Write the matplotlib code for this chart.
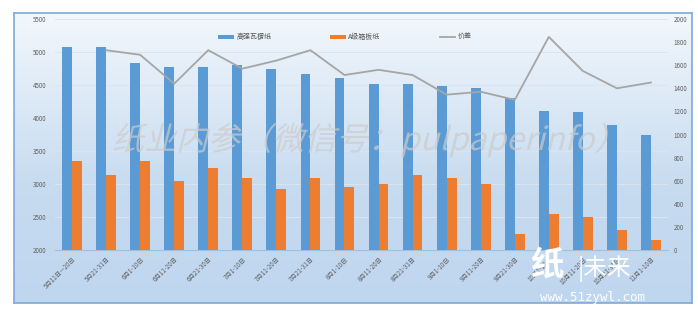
import numpy as np
import matplotlib.pyplot as plt
from matplotlib.textpath import TextPath
from matplotlib.patches import PathPatch
from matplotlib.font_manager import FontProperties
from matplotlib.transforms import Affine2D, IdentityTransform

plt.rcParams['font.family'] = ['Noto Sans CJK SC', 'DejaVu Sans']

# Ten-day periods
periods = ["5月11日—20日", "5月21-31日", "6月1-10日", "6月11-20日", "6月21-30日",
           "7月1-10日", "7月11-20日", "7月21-31日", "8月1-10日", "8月11-20日",
           "8月21-31日", "9月1-10日", "9月11-20日", "9月21-30日", "10月1-10日",
           "10月11-20日", "10月21-31日", "11月1-10日"]

# Average prices (left axis)
corrugating = [5080, 5070, 4840, 4780, 4780, 4800, 4750, 4670, 4610, 4520,
               4520, 4490, 4450, 4300, 4100, 4090, 3900, 3750]
linerboard = [3350, 3140, 3350, 3050, 3240, 3090, 2920, 3090, 2950, 3000,
              3140, 3090, 3000, 2250, 2550, 2500, 2300, 2150]

# Price spread (right axis), no value for the first period
spread = [np.nan, 1730, 1690, 1440, 1730, 1570, 1640, 1730, 1515, 1560,
          1515, 1345, 1370, 1300, 1845, 1550, 1400, 1450]

W, H = 698, 322
fig = plt.figure(figsize=(W / 100, H / 100), dpi=100)

# chart area with soft blue gradient and border
bg = fig.add_axes([14 / W, (H - 303) / H, (692 - 14) / W, (303 - 13) / H])
grad = np.linspace(0, 1, 256).reshape(-1, 1)
top = np.array([0.95, 0.97, 0.99])
mid = np.array([0.78, 0.86, 0.94])
bot = np.array([0.75, 0.84, 0.94])
colors = np.where(grad[..., None] < 0.6,
                  top + (mid - top) * (grad[..., None] / 0.6),
                  mid + (bot - mid) * ((grad[..., None] - 0.6) / 0.4))
bg.imshow(colors, aspect='auto', extent=[0, 1, 0, 1], origin='upper')
bg.set_xlim(0, 1)
bg.set_ylim(0, 1)
bg.set_xticks([])
bg.set_yticks([])
for s in bg.spines.values():
    s.set_color('#7fa9d8')
    s.set_linewidth(1.2)

ax = fig.add_axes([55 / W, (H - 250) / H, (668 - 55) / W, (250 - 19) / H])
ax.set_facecolor('none')
x = np.arange(len(periods))
bw = 0.29
ax.bar(x - bw / 2, corrugating, bw, color='#5b9bd5', label='高强瓦楞纸', zorder=3)
ax.bar(x + bw / 2, linerboard, bw, color='#ed7d31', label='A级箱板纸', zorder=3)
ax.set_ylim(2000, 5500)
ax.set_yticks(np.arange(2000, 5501, 500))
ax.set_xlim(-0.5, len(periods) - 0.5)
ax.set_xticks(x)
ax.set_xticklabels(periods, rotation=45, ha='right', rotation_mode='anchor')
ax.tick_params(axis='both', length=0, labelsize=4.5, labelcolor='#606060')
ax.tick_params(axis='x', pad=4)
ax.tick_params(axis='y', pad=6)
ax.grid(axis='y', color='#dbe5f0', linewidth=0.7, zorder=0)
for s in ['top', 'left', 'right']:
    ax.spines[s].set_visible(False)
ax.spines['bottom'].set_color('#9fbfdf')
ax.spines['bottom'].set_linewidth(0.8)

ax2 = ax.twinx()
ax2.plot(x, spread, color='#a5a5a5', linewidth=1.3, label='价差', zorder=4)
ax2.set_ylim(0, 2000)
ax2.set_yticks(np.arange(0, 2001, 200))
ax2.tick_params(axis='y', length=0, labelsize=4.5, labelcolor='#606060', pad=4)
for s in ax2.spines.values():
    s.set_visible(False)

h1, l1 = ax.get_legend_handles_labels()
h2, l2 = ax2.get_legend_handles_labels()
fig.legend(h1 + h2, l1 + l2, loc='center', bbox_to_anchor=(345 / W, 1 - 37 / H),
           ncol=3, frameon=False, fontsize=5, labelcolor='#555555',
           columnspacing=8.5, handlelength=2.2, handleheight=0.5, handletextpad=0.4)

# slanted grey watermark across the middle
fp = FontProperties(family='Noto Sans CJK SC', weight='light')
tp = TextPath((0, 0), '纸业内参（微信号：pulpaperinfo）', size=32, prop=fp)
tr = Affine2D().skew_deg(14, 0).translate(112, H - 150)
fig.add_artist(PathPatch(tr.transform_path(tp), transform=IdentityTransform(),
                         facecolor='#cccccc', edgecolor='none', alpha=0.7, zorder=10))

# site logo in the corner
fig.text(530 / W, 1 - 282 / H, '纸', color='white', fontsize=24, fontweight='bold',
         ha='left', va='bottom', zorder=11)
fig.text(578 / W, 1 - 282 / H, '|未来', color='white', fontsize=17,
         ha='left', va='bottom', zorder=11)
fig.text(540 / W, 1 - 298 / H, 'www.51zywl.com', color='white', fontsize=9,
         family='DejaVu Sans Mono', ha='left', va='center', zorder=11)

fig.savefig('out.png', dpi=100)
